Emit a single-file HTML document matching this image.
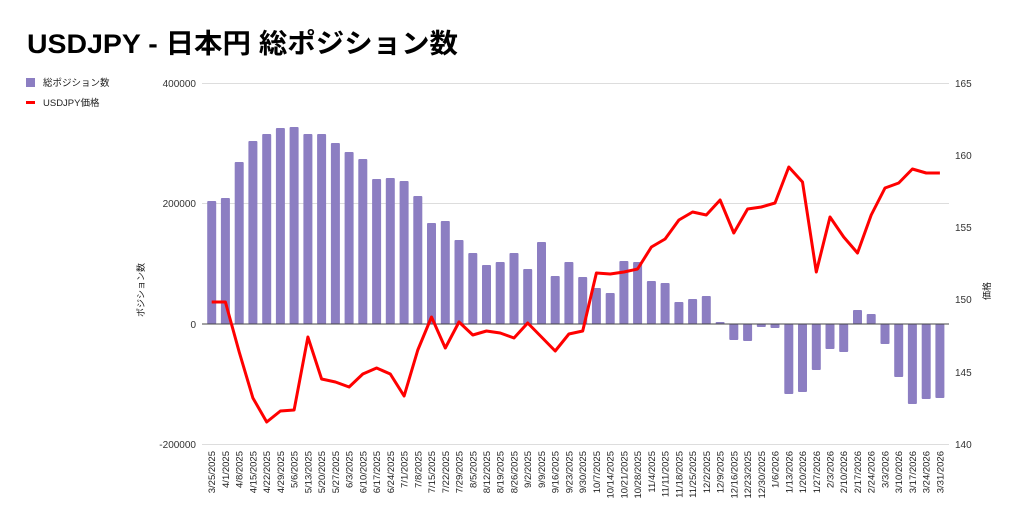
<!DOCTYPE html>
<html><head><meta charset="utf-8">
<style>
html,body{margin:0;padding:0;background:#fff;width:1024px;height:527px;overflow:hidden}
svg{display:block;font-family:"Liberation Sans","Noto Sans CJK JP",sans-serif}
</style></head><body>
<svg id="c" width="1024" height="527" viewBox="0 0 1024 527" xmlns="http://www.w3.org/2000/svg">
<text x="27" y="53" font-size="27" font-weight="bold" fill="#000" textLength="431" lengthAdjust="spacingAndGlyphs">USDJPY - 日本円 総ポジション数</text>
<rect x="26" y="78" width="9" height="9" fill="#8c7ec2"/>
<text x="43" y="86" font-size="9.5" fill="#222">総ポジション数</text>
<rect x="26" y="101" width="9" height="3" fill="#f00"/>
<text x="43" y="106" font-size="9.5" fill="#222">USDJPY価格</text>
<g stroke="#ddd" stroke-width="1">
<line x1="202" x2="949" y1="83.5" y2="83.5"/>
<line x1="202" x2="949" y1="203.5" y2="203.5"/>
<line x1="202" x2="949" y1="444.5" y2="444.5"/>
</g>
<g font-size="10" fill="#333" text-anchor="end">
<text x="196" y="87">400000</text>
<text x="196" y="207">200000</text>
<text x="196" y="328">0</text>
<text x="196" y="448">-200000</text>
</g>
<g font-size="10" fill="#333">
<text x="955" y="87">165</text>
<text x="955" y="159">160</text>
<text x="955" y="231">155</text>
<text x="955" y="303">150</text>
<text x="955" y="376">145</text>
<text x="955" y="448">140</text>
</g>
<text transform="translate(144,290) rotate(-90)" font-size="9" fill="#222" text-anchor="middle">ポジション数</text>
<text transform="translate(990,291) rotate(-90)" font-size="9" fill="#222" text-anchor="middle">価格</text>
<g id="bars" fill="#8c7ec2"></g>
<line x1="202" x2="949" y1="324" y2="324" stroke="#444" stroke-width="1"/>
<polyline id="ln" fill="none" stroke="#f00" stroke-width="3" stroke-linejoin="round"/>
<g id="lbl" font-size="9.5" fill="#222" text-anchor="end"></g>
</svg>
<script>
var tops=[201,198,162,141,134,128,127,134,134,143,152,159,179,178,181,196,223,221,240,253,265,262,253,269,242,276,262,277,288,293,261,262,281,283,302,299,296,322,340,341,327,328,394,392,370,349,352,310,314,344,377,404,399,398];
var ly=[302,302,352,398,422,411,410,337,379,382,387,374,368,374,396,350,317,348,322,335,331,333,338,323,337,351,334,331,273,274,272,269,247,239,220,212,215,200,233,209,207,203,167,182,272,217,237,253,215,188,183,169,173,173];
var ns="http://www.w3.org/2000/svg",b=document.getElementById('bars'),l=document.getElementById('lbl');
var d=new Date(2025,2,25),pts=[];
for(var i=0;i<54;i++){
 var x=211.7+i*13.74;
 var r=document.createElementNS(ns,'rect');
 var t=tops[i],y=Math.min(t,324),h=Math.abs(t-324);
 r.setAttribute('x',(x-4.5).toFixed(1));r.setAttribute('width','9');
 r.setAttribute('y',y);r.setAttribute('height',Math.max(h,1));r.setAttribute('rx','1');
 b.appendChild(r);
 pts.push(x.toFixed(1)+','+ly[i]);
 var tx=document.createElementNS(ns,'text');
 tx.setAttribute('transform','translate('+(x+3.5).toFixed(1)+',451) rotate(-90)');
 tx.textContent=(d.getMonth()+1)+'/'+d.getDate()+'/'+d.getFullYear();
 l.appendChild(tx);
 d.setDate(d.getDate()+7);
}
document.getElementById('ln').setAttribute('points',pts.join(' '));
</script>
</body></html>
